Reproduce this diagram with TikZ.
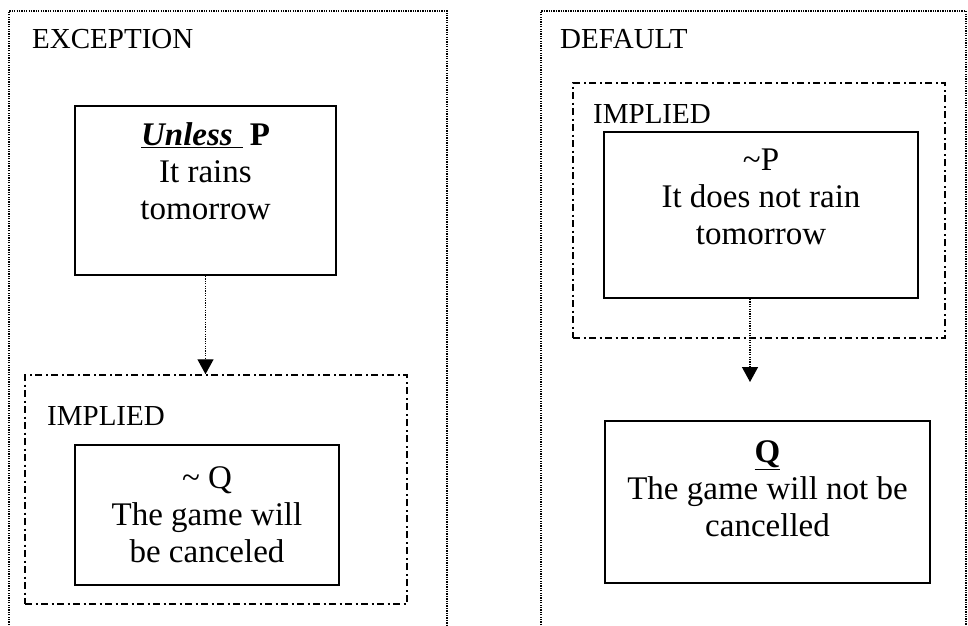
\documentclass[tikz,border=0pt]{standalone}
\usepackage{fontspec}
\setmainfont{Liberation Serif}
\usetikzlibrary{arrows.meta}
\begin{document}
\begin{tikzpicture}[x=1pt,y=-1pt,
  panel/.style={line width=1.4pt, dash pattern=on 1.3pt off 1.1pt},
  implbox/.style={draw, line width=1.5pt, dash pattern=on 7pt off 3.5pt on 2pt off 3.5pt, inner sep=0pt},
  % a three-line box: its base anchor sits on the baseline of the last line
  textbox/.style={draw, line width=1.8pt, inner sep=0pt, align=center, anchor=base,
    font=\fontsize{33}{37}\selectfont},
  caption/.style={inner sep=0pt, anchor=base west, font=\fontsize{29}{32}\selectfont},
  implies/.style={line width=1.4pt, dash pattern=on 1.3pt off 1.1pt,
    -{Triangle[length=15pt,width=16pt]}}]
\useasboundingbox (0,0) rectangle (968,625);

% the two open panels
\draw[panel] (9,625) -- (9,11) -- (447,11) -- (447,625);
\draw[panel] (541,625) -- (541,11) -- (966,11) -- (966,625);
\node[caption] (exc) at (32,48) {EXCEPTION};
\node[caption] (dft) at (560,48) {DEFAULT};

% exception side
\node[textbox, minimum width=261pt, text height=113pt, text depth=56pt] (pbox) at (205.5,219)
  {\underline{\textbf{\textit{Unless}}\hspace{10pt}}\hspace{7pt}\textbf{P}\\It rains\\tomorrow};
\node[implbox, minimum width=382pt, minimum height=229pt] (limp) at (216,489.5) {};
\node[caption] (limpl) at (47,425) {IMPLIED};
\node[textbox, minimum width=264pt, text height=117pt, text depth=23pt] (nqbox) at (207,562)
  {\textasciitilde\ Q\\The game will\\be canceled};
\draw[implies] (pbox.south) -- (pbox.south |- limp.north);

% default side
\node[implbox, minimum width=372pt, minimum height=255pt] (rimp) at (759,210.5) {};
\node[caption] (rimpl) at (593,123) {IMPLIED};
\node[textbox, minimum width=314pt, text height=112pt, text depth=54pt] (npbox) at (761,244)
  {\textasciitilde P\\It does not rain\\tomorrow};
\node[textbox, minimum width=325pt, text height=115pt, text depth=47pt] (qbox) at (767.5,536)
  {\underline{\textbf{Q}}\\The game will not be\\cancelled};
\coordinate (rtip) at (750,382);
\draw[implies] (rtip |- npbox.south) -- (rtip);
\end{tikzpicture}
\end{document}
